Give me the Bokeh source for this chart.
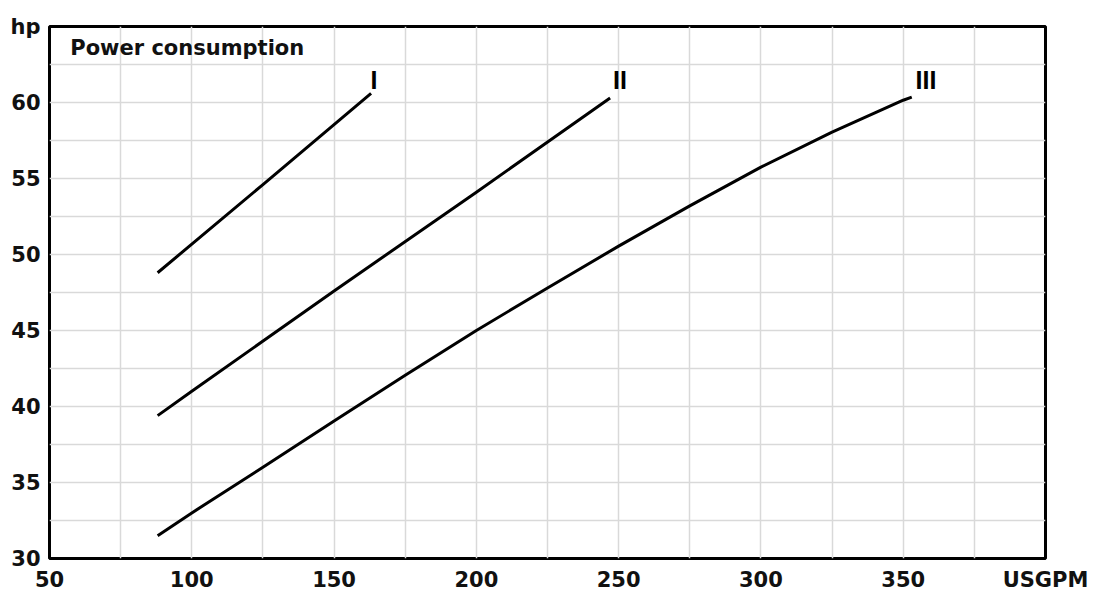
from bokeh.plotting import figure
from bokeh.models import FixedTicker, Label, Range1d
from bokeh.embed import file_html
from bokeh.resources import INLINE

# Data (flow in USGPM, power in hp)
flow_I = [88, 125, 163]
hp_I = [48.8, 54.6, 60.6]

flow_II = [88, 100, 150, 200, 247]
hp_II = [39.4, 41.0, 47.6, 54.1, 60.3]

flow_III = [88, 100, 125, 150, 175, 200, 225, 250, 275, 300, 325, 350, 353]
hp_III = [31.5, 33.0, 36.0, 39.05, 42.05, 45.0, 47.8, 50.55, 53.2, 55.75, 58.05, 60.15, 60.35]

curve_names = ["I", "II", "III"]
x_ticks = [50, 100, 150, 200, 250, 300, 350, 400]
x_tick_labels = ["50", "100", "150", "200", "250", "300", "350", "USGPM"]
y_ticks = [30, 35, 40, 45, 50, 55, 60, 65]
y_tick_labels = ["30", "35", "40", "45", "50", "55", "60", "hp"]

FONT = "DejaVu Sans"

p = figure(width=1097, height=594, output_backend="svg", toolbar_location=None,
           x_range=Range1d(50, 400), y_range=Range1d(30, 65),
           min_border_left=49, min_border_top=26, min_border_right=52, min_border_bottom=34)
p.background_fill_color = "white"
p.border_fill_color = "white"
p.outline_line_color = "black"
p.outline_line_width = 3

for ax in (p.xaxis, p.yaxis):
    ax.axis_line_color = None
    ax.major_tick_line_color = None
    ax.minor_tick_line_color = None
    ax.major_tick_out = 0
    ax.major_tick_in = 0
    ax.major_label_text_font = FONT
    ax.major_label_text_font_style = "bold"
    ax.major_label_text_font_size = "21px"
    ax.major_label_text_color = "#111111"

p.xaxis.ticker = FixedTicker(ticks=x_ticks)
p.yaxis.ticker = FixedTicker(ticks=y_ticks)
p.xaxis.major_label_overrides = {t: s for t, s in zip(x_ticks, x_tick_labels)}
p.yaxis.major_label_overrides = {t: s for t, s in zip(y_ticks, y_tick_labels)}
p.xaxis.major_label_standoff = 9
p.yaxis.major_label_standoff = 9

p.xgrid.ticker = FixedTicker(ticks=[75 + 25 * i for i in range(13)])
p.ygrid.ticker = FixedTicker(ticks=[32.5 + 2.5 * i for i in range(13)])
for g in (p.xgrid, p.ygrid):
    g.grid_line_color = "#d9d9d9"
    g.grid_line_width = 1.5

for fx, fy in ((flow_I, hp_I), (flow_II, hp_II), (flow_III, hp_III)):
    p.line(fx, fy, line_color="black", line_width=3, line_join="round")

ends_x = [flow_I[-1], flow_II[-1], flow_III[-1]]
shifts = [1.0, 3.5, 5.0]
for name, ex, dx in zip(curve_names, ends_x, shifts):
    p.add_layout(Label(x=ex + dx, y=61.45, text=name, text_align="center",
                       text_baseline="middle", text_font="Liberation Sans",
                       text_font_style="bold", text_font_size="25px", text_color="black"))

p.add_layout(Label(x=57.3, y=63.6, text="Power consumption", text_align="left",
                   text_baseline="middle", text_font=FONT, text_font_style="bold",
                   text_font_size="21px", text_color="#111111"))

open("out.html", "w").write(file_html(p, INLINE))
